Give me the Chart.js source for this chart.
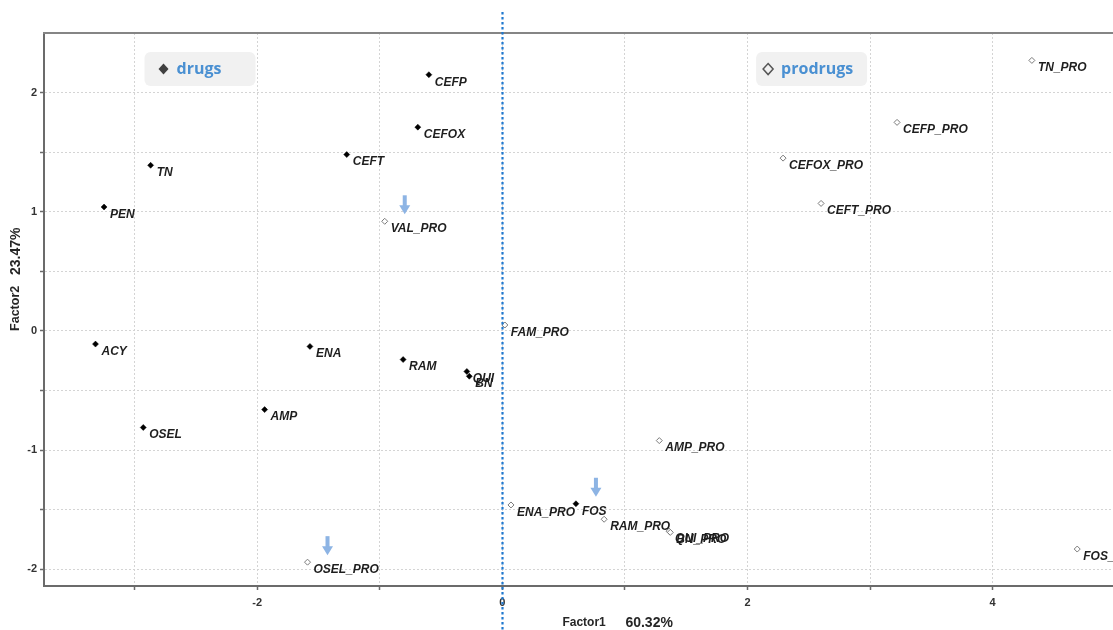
<!DOCTYPE html>
<html>
<head>
<meta charset="utf-8">
<script src="https://cdn.jsdelivr.net/npm/chart.js@4/dist/chart.umd.min.js"></script>
<style>
  html, body { margin: 0; padding: 0; background: #ffffff; overflow: hidden; }
  #wrap { width: 1113px; height: 630px; overflow: hidden; }
  #c { display: block; }
</style>
</head>
<body>
<div id="wrap"><canvas id="c" width="1119" height="630"></canvas></div>
<script>
// Factor scores of parent drugs
const drugNames = ['CEFP', 'CEFOX', 'CEFT', 'TN', 'PEN', 'ACY', 'ENA', 'RAM', 'QUI', 'BN', 'AMP', 'OSEL', 'FOS'];
const drugX = [-0.60, -0.69, -1.27, -2.87, -3.25, -3.32, -1.57, -0.81, -0.29, -0.27, -1.94, -2.93, 0.60];
const drugY = [2.15, 1.71, 1.48, 1.39, 1.04, -0.11, -0.13, -0.24, -0.34, -0.38, -0.66, -0.81, -1.45];

// Factor scores of the corresponding prodrugs
const prodrugNames = ['TN_PRO', 'CEFP_PRO', 'CEFOX_PRO', 'CEFT_PRO', 'VAL_PRO', 'FAM_PRO', 'AMP_PRO', 'ENA_PRO', 'RAM_PRO', 'QUI_PRO', 'BN_PRO', 'OSEL_PRO', 'FOS_PRO'];
const prodrugX = [4.32, 3.22, 2.29, 2.60, -0.96, 0.02, 1.28, 0.07, 0.83, 1.36, 1.37, -1.59, 4.69];
const prodrugY = [2.27, 1.75, 1.45, 1.07, 0.92, 0.05, -0.92, -1.46, -1.58, -1.68, -1.69, -1.94, -1.83];

// Highlighted compounds (marked with arrows)
const highlighted = ['VAL_PRO', 'FOS', 'OSEL_PRO'];

// Axis titles
const xTitle = ['Factor1', '60.32%'];
const yTitle = ['Factor2', '23.47%'];

const toPoints = (xs, ys) => xs.map((x, i) => ({ x: x, y: ys[i] }));

const TICK_FONT = { family: '"Liberation Sans", Arial, sans-serif', size: 11, weight: 'bold' };
const GRID_COLOR = '#d4d4d4';
const AXIS_COLOR = '#6b6b6b';

// no outer tick mark on the top edge
const tickColorFor = ctx => (ctx.tick && Math.abs(ctx.tick.value - 2.5) < 1e-6 ? 'rgba(0,0,0,0)' : AXIS_COLOR);

// Labels next to every point
const pointLabels = {
  id: 'pointLabels',
  afterDatasetsDraw(chart) {
    const ctx = chart.ctx;
    ctx.save();
    ctx.font = 'italic bold 12px "Liberation Sans", Arial, sans-serif';
    ctx.fillStyle = '#1e1e1e';
    ctx.textBaseline = 'middle';
    ctx.textAlign = 'left';
    chart.data.datasets.forEach((ds, i) => {
      chart.getDatasetMeta(i).data.forEach((el, j) => {
        ctx.fillText(ds.names[j], el.x + 6, el.y + 7.5);
      });
    });
    ctx.restore();
  }
};

// Frame, zero line, group tags, arrows and axis titles
const decorations = {
  id: 'decorations',
  afterDraw(chart) {
    const ctx = chart.ctx;
    const a = chart.chartArea;
    const xs = chart.scales.x, ys = chart.scales.y;
    ctx.save();

    // top frame line
    ctx.strokeStyle = '#858585';
    ctx.lineWidth = 2;
    ctx.beginPath();
    ctx.moveTo(a.left - 1, a.top);
    ctx.lineTo(a.right, a.top);
    ctx.stroke();

    // dotted vertical line at Factor1 = 0
    const x0 = Math.round(xs.getPixelForValue(0)) + 0.5;
    ctx.strokeStyle = '#1f78cf';
    ctx.lineWidth = 2.2;
    ctx.setLineDash([2.5, 2.5]);
    ctx.beginPath();
    ctx.moveTo(x0, a.top - 21);
    ctx.lineTo(x0, chart.height);
    ctx.stroke();
    ctx.setLineDash([]);

    // group tags
    const tag = (xv, label, filled, markOffset) => {
      const left = xs.getPixelForValue(xv);
      const top = ys.getPixelForValue(2.34);
      const w = 111, h = 34;
      ctx.fillStyle = '#f1f1f1';
      ctx.beginPath();
      ctx.roundRect(left, top, w, h, 6);
      ctx.fill();
      const cx = left + markOffset, cy = top + 17;
      ctx.beginPath();
      ctx.moveTo(cx, cy - 5.5);
      ctx.lineTo(cx + 5, cy);
      ctx.lineTo(cx, cy + 5.5);
      ctx.lineTo(cx - 5, cy);
      ctx.closePath();
      if (filled) {
        ctx.fillStyle = '#404040';
        ctx.fill();
      } else {
        ctx.strokeStyle = '#555555';
        ctx.lineWidth = 1.5;
        ctx.stroke();
      }
      ctx.fillStyle = '#4a90d2';
      ctx.font = 'bold 16px "Open Sans", "Noto Sans", sans-serif';
      ctx.textBaseline = 'middle';
      ctx.textAlign = 'left';
      ctx.fillText(label, cx + 13, cy);
    };
    tag(-2.92, 'drugs', true, 19);
    tag(2.07, 'prodrugs', false, 12);

    // arrows above highlighted compounds
    ctx.fillStyle = '#8db4e4';
    chart.data.datasets.forEach((ds, i) => {
      chart.getDatasetMeta(i).data.forEach((el, j) => {
        if (!highlighted.includes(ds.names[j])) return;
        const ax = el.x + 20, tip = el.y - 7, top = el.y - 26;
        ctx.fillRect(ax - 2, top, 4, 11);
        ctx.beginPath();
        ctx.moveTo(ax - 5.5, top + 10);
        ctx.lineTo(ax + 5.5, top + 10);
        ctx.lineTo(ax, tip);
        ctx.closePath();
        ctx.fill();
      });
    });

    // axis titles
    ctx.fillStyle = '#262626';
    ctx.textBaseline = 'middle';
    ctx.textAlign = 'left';
    const tx = xs.getPixelForValue(0) + 60;
    ctx.font = 'bold 12px "Liberation Sans", Arial, sans-serif';
    ctx.fillText(xTitle[0], tx, chart.height - 7);
    ctx.font = 'bold 14px "Liberation Sans", Arial, sans-serif';
    ctx.fillText(xTitle[1], tx + 63, chart.height - 7);

    ctx.translate(16, ys.getPixelForValue(0));
    ctx.rotate(-Math.PI / 2);
    ctx.font = 'bold 12.5px "Liberation Sans", Arial, sans-serif';
    ctx.fillText(yTitle[0], 0, 0);
    ctx.font = 'bold 14px "Liberation Sans", Arial, sans-serif';
    ctx.fillText(yTitle[1], 56, 0);
    ctx.restore();
  }
};

new Chart(document.getElementById('c'), {
  type: 'scatter',
  data: {
    datasets: [
      {
        label: 'drugs',
        names: drugNames,
        data: toPoints(drugX, drugY),
        pointStyle: 'rectRot',
        pointRadius: 3,
        backgroundColor: '#000000',
        borderColor: '#000000',
        borderWidth: 0.5
      },
      {
        label: 'prodrugs',
        names: prodrugNames,
        data: toPoints(prodrugX, prodrugY),
        pointStyle: 'rectRot',
        pointRadius: 3,
        backgroundColor: '#ffffff',
        borderColor: '#7a7a7a',
        borderWidth: 1
      }
    ]
  },
  options: {
    responsive: false,
    animation: false,
    layout: { padding: { top: 33, right: 0, left: 0, bottom: 0 } },
    plugins: {
      legend: { display: false },
      tooltip: { enabled: false }
    },
    scales: {
      x: {
        type: 'linear',
        min: -3.74,
        max: 4.99,
        afterFit(scale) {
          scale.height = 44;
          scale.paddingLeft = 0;
          scale.paddingRight = 0;
        },
        border: { display: true, color: AXIS_COLOR, width: 2, dash: [2, 2] },
        grid: { color: GRID_COLOR, lineWidth: 1, tickColor: AXIS_COLOR, tickLength: 4, tickWidth: 1.5 },
        ticks: {
          stepSize: 1,
          includeBounds: false,
          maxRotation: 0,
          autoSkip: false,
          padding: 6,
          color: '#333333',
          font: TICK_FONT,
          callback: v => (Math.abs(v % 2) < 1e-6 ? String(Math.round(v)) : '')
        }
      },
      y: {
        type: 'linear',
        min: -2.14,
        max: 2.5,
        afterFit(scale) {
          scale.width = 44;
          scale.paddingTop = 0;
          scale.paddingBottom = 0;
        },
        border: { display: true, color: AXIS_COLOR, width: 2, dash: [2, 2] },
        grid: { color: GRID_COLOR, lineWidth: 1, tickColor: tickColorFor, tickLength: 4, tickWidth: 1.5 },
        ticks: {
          stepSize: 0.5,
          includeBounds: false,
          autoSkip: false,
          padding: 3,
          color: '#333333',
          font: TICK_FONT,
          callback: v => (Math.abs(v - Math.round(v)) < 1e-6 ? String(Math.round(v)) : '')
        }
      }
    }
  },
  plugins: [pointLabels, decorations]
});
</script>
</body>
</html>
